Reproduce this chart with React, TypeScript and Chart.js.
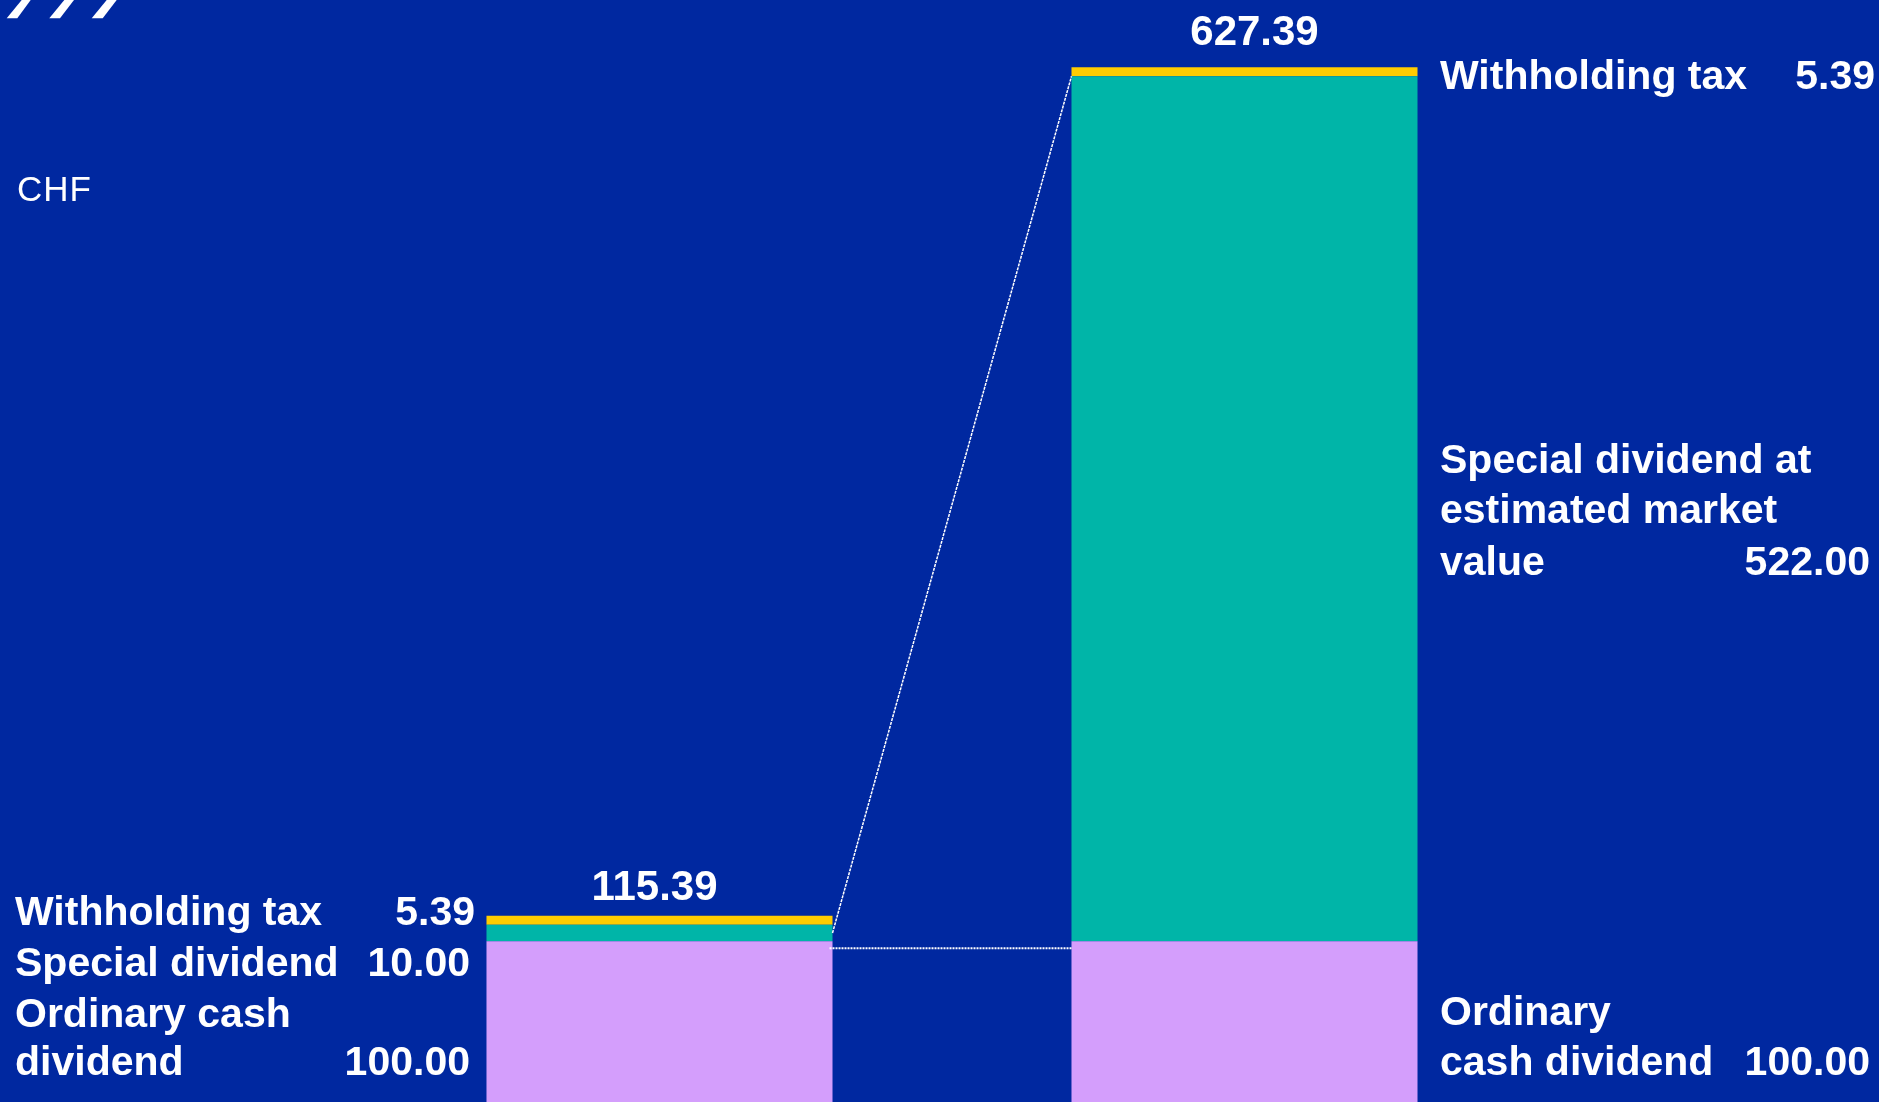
import React, { useEffect, useRef } from "react";
import { Chart, registerables } from "chart.js";

Chart.register(...registerables);

// ---- data ----
const categories = ["Ordinary + special (cash)", "Ordinary + special (market value)"];
const ordinaryCashDividend = [100, 100];
const specialDividend = [10, 522];
const withholdingTax = [5.39, 5.39];

const seriesNames = ["Ordinary cash dividend", "Special dividend", "Withholding tax"];
const seriesColors = ["#d49efc", "#00b5a8", "#ffcc00"];

const unitLabel = "CHF";

// label texts (lines + value)
const leftLabelLines = [["Withholding tax"], ["Special dividend"], ["Ordinary cash", "dividend"]];
const leftLabelValues = ["5.39", "10.00", "100.00"];
const rightLabelLines = [["Withholding tax"], ["Special dividend at", "estimated market", "value"], ["Ordinary", "cash dividend"]];
const rightLabelValues = ["5.39", "522.00", "100.00"];

const BG = "#0028a0";
const FONT = "'Liberation Sans', Arial, sans-serif";

const overlayPlugin = {
  id: "overlay",
  beforeDraw(chart: any) {
    const ctx = chart.ctx;
    ctx.save();
    ctx.fillStyle = BG;
    ctx.fillRect(0, 0, chart.width, chart.height);
    // decorative slashes top-left
    ctx.fillStyle = "#ffffff";
    const slashes = [
      [6.7, 21.7, 30.7, 17.3],
      [49.3, 64.3, 74, 60],
      [91.7, 106.7, 116.7, 102.7],
    ];
    for (const s of slashes) {
      ctx.beginPath();
      ctx.moveTo(s[0], 18.3);
      ctx.lineTo(s[1], 0);
      ctx.lineTo(s[2], 0);
      ctx.lineTo(s[3], 18.3);
      ctx.closePath();
      ctx.fill();
    }
    ctx.restore();
  },
  afterDatasetsDraw(chart: any) {
    const ctx = chart.ctx;
    const y = chart.scales.y;
    const metaSpecial = chart.getDatasetMeta(1);
    const b0 = metaSpecial.data[0];
    const b1 = metaSpecial.data[1];
    const right0 = b0.x + b0.width / 2;
    const left1 = b1.x - b1.width / 2;

    ctx.save();
    ctx.strokeStyle = "#ffffff";
    // diagonal connector: middle of left special segment to top of right special segment
    ctx.lineWidth = 1.5;
    ctx.setLineDash([3, 1]);
    ctx.beginPath();
    ctx.moveTo(right0, y.getPixelForValue(ordinaryCashDividend[0] + specialDividend[0] / 2));
    ctx.lineTo(left1, y.getPixelForValue(ordinaryCashDividend[1] + specialDividend[1]));
    ctx.stroke();
    // horizontal dotted connector just below ordinary dividend level
    ctx.lineWidth = 2;
    ctx.setLineDash([2, 1]);
    const hy = y.getPixelForValue(ordinaryCashDividend[0]) + 7;
    ctx.beginPath();
    ctx.moveTo(right0 - 3, hy);
    ctx.lineTo(left1, hy);
    ctx.stroke();
    ctx.setLineDash([]);

    ctx.fillStyle = "#ffffff";
    ctx.textBaseline = "alphabetic";

    // totals above bars
    ctx.font = `bold 42px ${FONT}`;
    ctx.textAlign = "center";
    const metaTop = chart.getDatasetMeta(2);
    for (let i = 0; i < categories.length; i++) {
      const total = ordinaryCashDividend[i] + specialDividend[i] + withholdingTax[i];
      const el = metaTop.data[i];
      const gap = i === 0 ? 16 : 22;
      ctx.fillText(total.toFixed(2), el.x + (i === 0 ? -5 : 10), y.getPixelForValue(total) - gap);
    }

    // CHF unit
    ctx.font = `35px ${FONT}`;
    ctx.textAlign = "left";
    try { (ctx as any).letterSpacing = "1px"; } catch (e) {}
    ctx.fillText(unitLabel, 17, 201);
    try { (ctx as any).letterSpacing = "0px"; } catch (e) {}

    ctx.font = `bold 41px ${FONT}`;
    // left column
    const leftBaselines = [[925], [976], [1027, 1075]];
    const leftValueRight = [475, 470, 470];
    for (let i = 0; i < leftLabelLines.length; i++) {
      const lines = leftLabelLines[i];
      ctx.textAlign = "left";
      lines.forEach((t, k) => ctx.fillText(t, 15, leftBaselines[i][k]));
      ctx.textAlign = "right";
      ctx.fillText(leftLabelValues[i], leftValueRight[i], leftBaselines[i][lines.length - 1]);
    }
    // right column
    const rightBaselines = [[89], [473, 523, 575], [1025, 1075]];
    const rightValueRight = [1875, 1870, 1870];
    for (let i = 0; i < rightLabelLines.length; i++) {
      const lines = rightLabelLines[i];
      ctx.textAlign = "left";
      lines.forEach((t, k) => ctx.fillText(t, 1440, rightBaselines[i][k]));
      ctx.textAlign = "right";
      ctx.fillText(rightLabelValues[i], rightValueRight[i], rightBaselines[i][lines.length - 1]);
    }
    ctx.restore();
  },
};

export default function App() {
  const ref = useRef<HTMLCanvasElement | null>(null);
  useEffect(() => {
    if (!ref.current) return;
    const chart = new Chart(ref.current, {
      type: "bar",
      data: {
        labels: categories,
        datasets: [
          { label: seriesNames[0], data: ordinaryCashDividend, backgroundColor: seriesColors[0] },
          { label: seriesNames[1], data: specialDividend, backgroundColor: seriesColors[1] },
          { label: seriesNames[2], data: withholdingTax, backgroundColor: seriesColors[2] },
        ],
      },
      options: {
        animation: false,
        responsive: false,
        maintainAspectRatio: false,
        devicePixelRatio: 1,
        layout: { padding: { left: 367, right: 342, top: 0, bottom: 0 } },
        datasets: { bar: { barPercentage: 0.5915, categoryPercentage: 1, borderWidth: 0 } },
        plugins: { legend: { display: false }, tooltip: { enabled: false } },
        scales: {
          x: { stacked: true, display: false, grid: { display: false } },
          y: { stacked: true, display: false, min: 3, max: 668, grid: { display: false } },
        },
      },
      plugins: [overlayPlugin],
    });
    return () => chart.destroy();
  }, []);
  return (
    <div style={{ position: "fixed", left: 0, top: 0, width: 1879, height: 1102, background: BG }}>
      <canvas ref={ref} width={1879} height={1102} style={{ display: "block" }} />
    </div>
  );
}
